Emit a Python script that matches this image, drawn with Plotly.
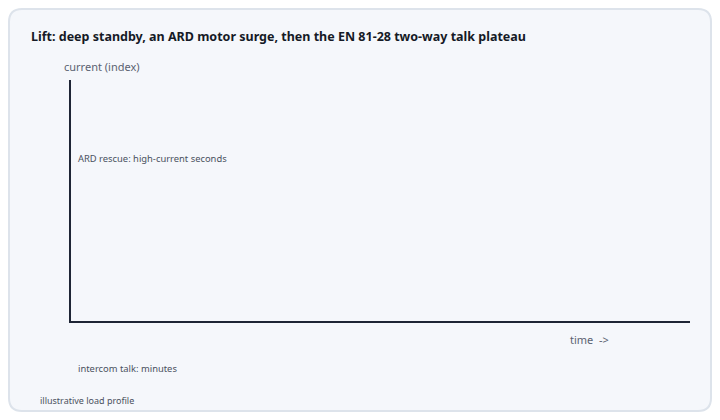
import plotly.graph_objects as go

# chart texts
title_text = "<b>Lift: deep standby, an ARD motor surge, then the EN 81-28 two-way talk plateau</b>"
y_label = "current (index)"
x_label = "time &nbsp;->"
phase_notes = ["ARD rescue: high-current seconds", "intercom talk: minutes"]
footnote = "illustrative load profile"

W, H = 704, 404
L, R, T, B = 63, 22, 72, 91
pw, ph = W - L - R, H - T - B


def px(x):
    return (x - L) / pw


def py(y):
    return (H - B - y) / ph


def rounded_card(x0, y0, x1, y1, r):
    # rectangle with rounded corners, pixel coords -> paper coords
    rx, ry = r / pw, r / ph
    a, b, c, d = px(x0), px(x1), py(y1), py(y0)
    return (f"M {a+rx},{c} L {b-rx},{c} Q {b},{c} {b},{c+ry} "
            f"L {b},{d-ry} Q {b},{d} {b-rx},{d} L {a+rx},{d} "
            f"Q {a},{d} {a},{d-ry} L {a},{c+ry} Q {a},{c} {a+rx},{c} Z")


fig = go.Figure()
fig.add_trace(go.Scatter(x=[], y=[], mode="lines", showlegend=False))

grey = "#5b6271"
font = "Noto Sans, sans-serif"

fig.add_shape(type="path", xref="paper", yref="paper", layer="below",
              path=rounded_card(1, 1, 703, 403, 13),
              fillcolor="#f5f7fb", line=dict(color="#dde3eb", width=2))

fig.add_annotation(text=y_label, xref="paper", yref="paper", x=px(54), y=py(59),
                   xanchor="left", yanchor="middle", showarrow=False,
                   font=dict(size=11, color=grey))
fig.add_annotation(text=x_label, xref="paper", yref="paper", x=px(560), y=py(331),
                   xanchor="left", yanchor="middle", showarrow=False,
                   font=dict(size=11, color=grey))
for note, (nx, ny) in zip(phase_notes, [(68, 150), (68, 360)]):
    fig.add_annotation(text=note, xref="paper", yref="paper", x=px(nx), y=py(ny),
                       xanchor="left", yanchor="middle", showarrow=False,
                       font=dict(size=9.4, color="#4a5160"))
fig.add_annotation(text=footnote, xref="paper", yref="paper", x=px(30), y=py(392),
                   xanchor="left", yanchor="middle", showarrow=False,
                   font=dict(size=9, color="#4a5160"))

axis = dict(showline=True, linewidth=2, linecolor="#1e2535", showgrid=False,
            zeroline=False, showticklabels=False, ticks="", range=[0, 1], fixedrange=True)
fig.update_xaxes(**axis)
fig.update_yaxes(**axis)

fig.update_layout(
    width=W, height=H,
    margin=dict(l=L, r=R, t=T, b=B),
    paper_bgcolor="white", plot_bgcolor="rgba(0,0,0,0)",
    font=dict(family=font, color=grey),
    title=dict(text=title_text, x=23 / W, xanchor="left", xref="container",
               y=1 - 29 / H, yanchor="middle", yref="container",
               font=dict(size=12.5, color="#151a26")),
    showlegend=False,
)

fig.write_html("out.html")
